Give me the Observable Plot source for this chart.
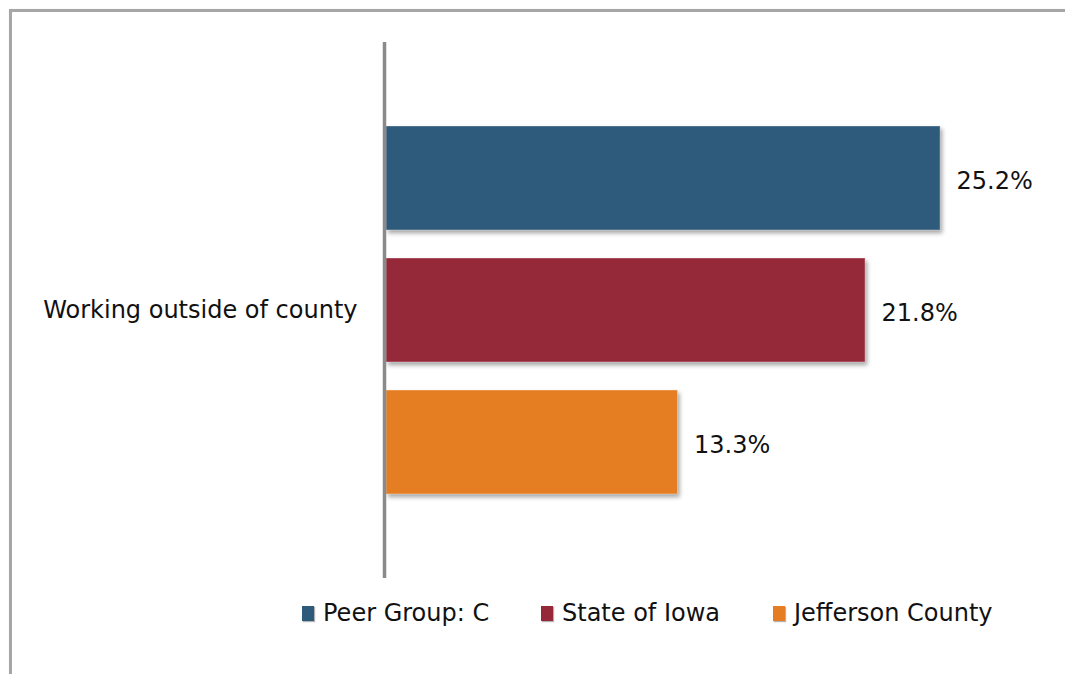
<!DOCTYPE html>
<html>
<head>
<meta charset="utf-8">
<script src="https://cdn.jsdelivr.net/npm/d3@7"></script>
<script src="https://cdn.jsdelivr.net/npm/@observablehq/plot@0.6"></script>
<style>
  html, body { margin: 0; padding: 0; background: #fff; width: 1065px; height: 674px; overflow: hidden; }
  #frame { position: absolute; left: 9px; top: 9px; width: 1100px; height: 700px; border: 3px solid #a6a6a6; box-shadow: 1px 1px 2px rgba(0,0,0,0.25); }
  #chart { position: absolute; left: 0; top: 0; }
  #chart svg g[aria-label="bar"] rect { filter: drop-shadow(2px 3px 2px rgba(0,0,0,0.35)); }
  #legend { position: absolute; left: 0; top: 597px; width: 1065px; height: 32px; font-family: "DejaVu Sans", sans-serif; font-size: 24px; color: #111; }
  .item { position: absolute; top: 0; display: flex; align-items: center; height: 32px; white-space: nowrap; }
  .sw { width: 12px; height: 15px; margin-right: 9px; box-shadow: 1px 1px 1px rgba(0,0,0,0.3); }
</style>
</head>
<body>
<div id="frame"></div>
<div id="chart"></div>
<div id="legend"></div>
<script>
const categories = ["Working outside of county"];
const series = ["Peer Group: C", "State of Iowa", "Jefferson County"];
const values = [25.2, 21.8, 13.3];
const colors = ["#2e5a7c", "#952939", "#e57e22"];
const labels = ["25.2%", "21.8%", "13.3%"];

const data = series.map((s, i) => ({category: categories[0], series: s, value: values[i], label: labels[i]}));

const plot = Plot.plot({
  width: 1065,
  height: 590,
  marginLeft: 384,
  marginRight: 19,
  marginTop: 42,
  marginBottom: 12,
  style: {fontFamily: "DejaVu Sans, sans-serif", fontSize: "24px", color: "#111", background: "transparent"},
  x: {domain: [0, 30], axis: null},
  y: {domain: series, axis: null, paddingInner: 0.215, paddingOuter: 0.627},
  fy: {domain: categories, label: null, tickSize: 0, tickPadding: 27, padding: 0},
  color: {domain: series, range: colors},
  marks: [
    Plot.barX(data, {fy: "category", y: "series", x: "value", fill: "series", insetLeft: 2, stroke: "#ffffff", strokeOpacity: 0.35, strokeWidth: 1}),
    Plot.text(data, {fy: "category", y: "series", x: "value", text: "label", textAnchor: "start", dx: 16, dy: 3, fill: "#111"}),
    Plot.ruleX([0], {stroke: "#8a8a8a", strokeWidth: 3.5})
  ]
});
document.getElementById("chart").appendChild(plot);

const legend = document.getElementById("legend");
const lx = [302, 541, 773];
series.forEach((s, i) => {
  const it = document.createElement("div");
  it.className = "item";
  it.style.left = lx[i] + "px";
  const sw = document.createElement("div");
  sw.className = "sw";
  sw.style.background = colors[i];
  const t = document.createElement("span");
  t.textContent = s;
  it.appendChild(sw);
  it.appendChild(t);
  legend.appendChild(it);
});
</script>
</body>
</html>
